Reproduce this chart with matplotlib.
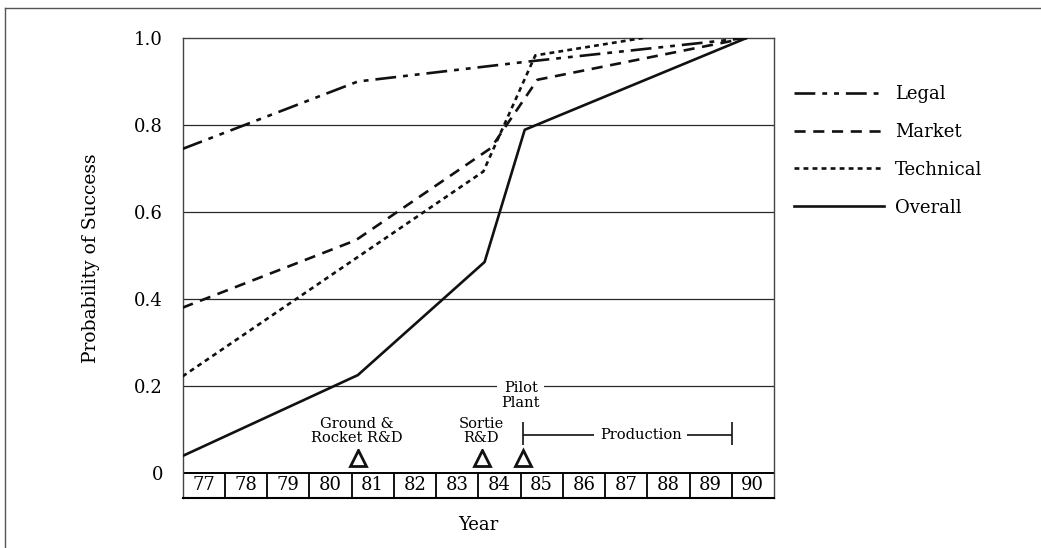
import matplotlib
matplotlib.use('Agg')
import matplotlib.pyplot as plt
from matplotlib.lines import Line2D

plt.rcParams['font.family'] = ['DejaVu Serif']
plt.rcParams['lines.scale_dashes'] = False

# year boxes along the bottom
years = list(range(77, 91))

# probability curves (x = year position, box i spans [i, i+1])
legal_x = [77, 81.15, 85.1, 90.35]
legal_y = [0.745, 0.90, 0.945, 1.0]
market_x = [77, 81.1, 84.3, 85.4, 90.35]
market_y = [0.38, 0.535, 0.747, 0.904, 1.0]
tech_x = [77, 84.12, 85.35, 87.9]
tech_y = [0.222, 0.693, 0.96, 1.0]
overall_x = [77, 81.15, 84.15, 85.1, 90.35]
overall_y = [0.039, 0.225, 0.485, 0.789, 1.0]

# milestones
milestone_x = [81.16, 84.09, 85.06]
milestone_text = ['Ground &\nRocket R&D', 'Sortie\nR&D', 'Pilot\nPlant']
milestone_text_x = [81.13, 84.07, 85.01]
milestone_text_y = [0.097, 0.097, 0.178]
production_span = [85.06, 90.0]

yticks = [0, 0.2, 0.4, 0.6, 0.8, 1.0]
ytick_labels = ['0', '0.2', '0.4', '0.6', '0.8', '1.0']

W, H = 1041, 548
fig = plt.figure(figsize=(W / 100, H / 100), dpi=100)
ax = fig.add_axes([182.5 / W, 50 / H, (774 - 182.5) / W, (498 - 38) / H])
strip = -25 / 434.5
ax.set_xlim(77, 91)
ax.set_ylim(strip, 1.0)

for s in ax.spines.values():
    s.set_color('#444444')
    s.set_linewidth(1.0)
ax.spines['bottom'].set_color('black')
ax.spines['bottom'].set_linewidth(1.5)

for v in yticks[1:-1]:
    ax.axhline(v, color='#2a2a2a', lw=0.9, zorder=1)

# year strip
ax.axhline(0, color='black', lw=1.4, zorder=2)
ax.vlines(years[1:], strip, 0, color='black', lw=1.3, zorder=2)
for yr in years:
    ax.text(yr + 0.5, strip / 2, str(yr), ha='center', va='center', fontsize=13)

lw = 1.9
ax.plot(legal_x, legal_y, color='#111111', lw=lw, dashes=(15, 5, 3.5, 5, 3.5, 5), label='Legal', zorder=3)
ax.plot(market_x, market_y, color='#111111', lw=lw, dashes=(8, 5.5), label='Market', zorder=3)
ax.plot(tech_x, tech_y, color='#111111', lw=lw, dashes=(3.5, 3), label='Technical', zorder=3)
ax.plot(overall_x, overall_y, color='#111111', lw=lw, label='Overall', zorder=3)

ax.plot(milestone_x, [0.034] * 3, marker='^', ls='none', ms=11.5, mfc='white', mec='#111111', mew=2, zorder=4)
for x, y, t in zip(milestone_text_x, milestone_text_y, milestone_text):
    ax.text(x, y, t, ha='center', va='center', fontsize=10.5, linespacing=1.05,
            bbox=dict(facecolor='white', edgecolor='none', pad=3), zorder=4)

ax.hlines(0.0875, production_span[0], production_span[1], color='#111111', lw=1.2, zorder=3)
ax.vlines(production_span, 0.064, 0.118, color='#111111', lw=1.2, zorder=3)
ax.text(87.85, 0.0875, 'Production', ha='center', va='center', fontsize=10.5,
        bbox=dict(facecolor='white', edgecolor='none', pad=4), zorder=4)

ax.set_xticks([])
ax.set_yticks(yticks)
ax.set_yticklabels(ytick_labels, fontsize=13)
ax.tick_params(axis='y', length=0, pad=14)

ax.set_ylabel('Probability of Success', fontsize=13.5)
ax.yaxis.set_label_coords((100 - 182.5) / 591.5, (498 - 258) / 460)
fig.text(478 / W, 1 - 525 / H, 'Year', ha='center', va='center', fontsize=13)

ax.legend(loc='upper left', bbox_to_anchor=(794 / W, 1 - 85 / H), bbox_transform=fig.transFigure,
          frameon=False, borderpad=0, borderaxespad=0, handlelength=5.0, handletextpad=0.6,
          labelspacing=1.1, fontsize=13)

# outer frame (left and top edges visible)
fig.add_artist(Line2D([5 / W, 5 / W], [0, 1 - 8 / H], transform=fig.transFigure, color='#555555', lw=1))
fig.add_artist(Line2D([5 / W, 1], [1 - 8 / H, 1 - 8 / H], transform=fig.transFigure, color='#555555', lw=1))

fig.savefig('out.png', dpi=100)
